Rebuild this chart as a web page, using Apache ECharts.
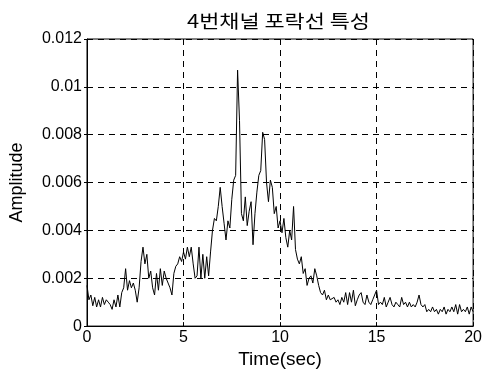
<!DOCTYPE html>
<html>
<head>
<meta charset="utf-8">
<script src="https://cdn.jsdelivr.net/npm/echarts@6/dist/echarts.min.js"></script>
<style>
html,body{margin:0;padding:0;background:#fff;}
#chart{width:485px;height:374px;}
</style>
</head>
<body>
<div id="chart"></div>
<script>
const titleText = '4번채널 포락선 특성';
const xName = 'Time(sec)';
const yName = 'Amplitude';
const timeStep = 0.1; // seconds between samples, starting at 0
const xTicks = [0, 5, 10, 15, 20];
const yTicks = [0, 0.002, 0.004, 0.006, 0.008, 0.01, 0.012];

// amplitude samples, 0 .. 20 s every 0.1 s
const amp0to5 = [
  0.0017, 0.0011, 0.0013, 0.00085, 0.0012, 0.0008, 0.0011, 0.0008, 0.0012, 0.0009,
  0.0011, 0.0010, 0.0009, 0.0007, 0.0011, 0.0008, 0.0013, 0.0008, 0.0014, 0.0016,
  0.0024, 0.0015, 0.0019, 0.0016, 0.0018, 0.0015, 0.0010, 0.0016, 0.0027, 0.0033,
  0.0026, 0.0030, 0.0020, 0.0023, 0.0016, 0.0013, 0.0022, 0.0015, 0.0024, 0.0017,
  0.0023, 0.0020, 0.0018, 0.0016, 0.0013, 0.0022, 0.0025, 0.0026, 0.0029, 0.0027
];
const amp5to10 = [
  0.0031, 0.0028, 0.0033, 0.0029, 0.0033, 0.0026, 0.0020, 0.0021, 0.0033, 0.0020,
  0.0030, 0.0020, 0.0029, 0.0021, 0.0031, 0.0040, 0.0045, 0.0044, 0.0050, 0.0058,
  0.0050, 0.0043, 0.0036, 0.0044, 0.0041, 0.0053, 0.0061, 0.0063, 0.0107, 0.0086,
  0.0047, 0.0044, 0.0054, 0.0042, 0.0048, 0.0052, 0.0034, 0.0047, 0.0056, 0.0063,
  0.0065, 0.0081, 0.0078, 0.0060, 0.0052, 0.0061, 0.0058, 0.0047, 0.0050, 0.0041
];
const amp10to15 = [
  0.0044, 0.0039, 0.0045, 0.0037, 0.0033, 0.0040, 0.0036, 0.0050, 0.0032, 0.0028,
  0.0026, 0.0029, 0.0022, 0.0024, 0.0017, 0.0020, 0.0021, 0.0018, 0.0024, 0.0021,
  0.0017, 0.0014, 0.0013, 0.0015, 0.0011, 0.0013, 0.0011, 0.0011, 0.0012, 0.0010,
  0.0011, 0.0009, 0.0012, 0.0010, 0.0014, 0.0009, 0.0014, 0.0010, 0.0015, 0.00085,
  0.0011, 0.0013, 0.0014, 0.0010, 0.0009, 0.0013, 0.0010, 0.0009, 0.0011, 0.0013
];
const amp15to20 = [
  0.0015, 0.0009, 0.0010, 0.0009, 0.0012, 0.0008, 0.0010, 0.0012, 0.0009, 0.0008,
  0.0010, 0.0009, 0.0008, 0.0012, 0.0009, 0.0010, 0.0008, 0.0010, 0.0008, 0.0009,
  0.0008, 0.0010, 0.0013, 0.0009, 0.0008, 0.0009, 0.0006, 0.0007, 0.0006, 0.0008,
  0.0006, 0.0007, 0.0005, 0.0007, 0.0006, 0.0008, 0.0005, 0.0007, 0.0006, 0.0008,
  0.0006, 0.0009, 0.0005, 0.0009, 0.0006, 0.0007, 0.0006, 0.0008, 0.0005, 0.0008,
  0.0006
];

const amplitude = [].concat(amp0to5, amp5to10, amp10to15, amp15to20);
const seriesData = amplitude.map((v, i) => [Number((i * timeStep).toFixed(2)), v]);

// title is stretched horizontally to the width it has in the reference
const titleFont = '18px "Noto Sans CJK KR"';
const measureCtx = document.createElement('canvas').getContext('2d');
measureCtx.font = titleFont;
const titleWidth = measureCtx.measureText(titleText).width || 150;
const titleScaleX = 183 / titleWidth;

const chart = echarts.init(document.getElementById('chart'), null, {renderer: 'canvas'});
const latin = 'Liberation Sans, Arial, sans-serif';
chart.setOption({
  animation: false,
  backgroundColor: '#fff',
  graphic: [{
    type: 'text', x: 278.5, y: 21, scaleX: titleScaleX, z: 10,
    style: {text: titleText, font: titleFont, fill: '#000', align: 'center', verticalAlign: 'middle'}
  }],
  grid: {left: 85, right: 10, top: 39, bottom: 47, show: true, borderColor: '#000', borderWidth: 1, backgroundColor: '#fff'},
  xAxis: {
    type: 'value', min: xTicks[0], max: xTicks[xTicks.length - 1], interval: 5,
    name: xName, nameLocation: 'middle', nameGap: 20,
    nameTextStyle: {fontFamily: latin, fontSize: 19, color: '#000'},
    axisLine: {lineStyle: {color: '#000', width: 1}},
    axisTick: {show: true, inside: true, length: 4, lineStyle: {color: '#000'}},
    axisLabel: {fontFamily: latin, fontSize: 16, color: '#000', margin: 3},
    splitLine: {show: true, lineStyle: {color: '#000', type: [6, 5], width: 1}}
  },
  yAxis: {
    type: 'value', min: yTicks[0], max: yTicks[yTicks.length - 1], interval: 0.002,
    name: yName, nameLocation: 'middle', nameGap: 61,
    nameTextStyle: {fontFamily: latin, fontSize: 18, color: '#000'},
    axisLine: {show: true, lineStyle: {color: '#000', width: 1}},
    axisTick: {show: true, inside: false, length: 3, lineStyle: {color: '#000'}},
    axisLabel: {fontFamily: latin, fontSize: 16, color: '#000', margin: 5,
      formatter: v => String(Number(v.toFixed(4)))},
    splitLine: {show: true, lineStyle: {color: '#000', type: [6, 5], width: 1}}
  },
  series: [{
    type: 'line', data: seriesData, showSymbol: false, symbol: 'none',
    lineStyle: {color: '#000', width: 1}, z: 5
  }]
});
</script>
</body>
</html>
